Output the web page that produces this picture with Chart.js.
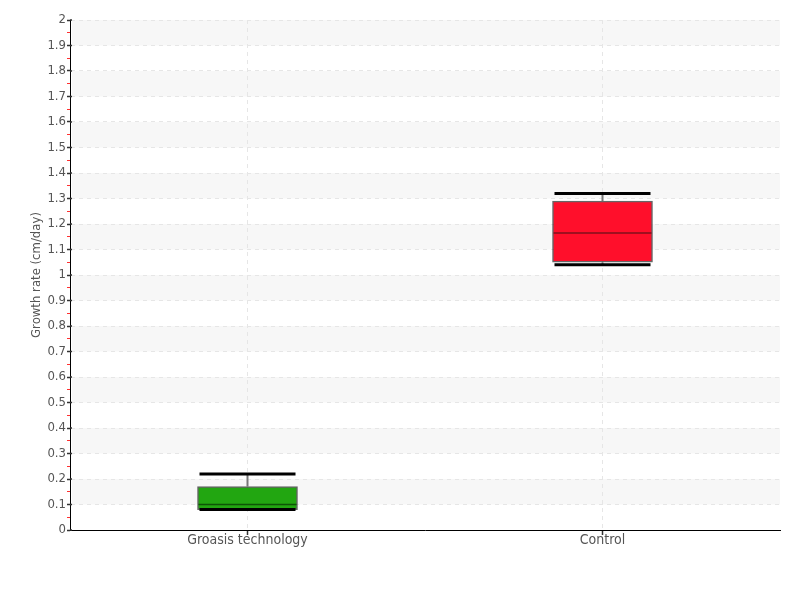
<!DOCTYPE html>
<html>
<head>
<meta charset="utf-8">
<script src="https://cdn.jsdelivr.net/npm/chart.js@4.4.1/dist/chart.umd.min.js"></script>
<style>
  html, body { margin: 0; padding: 0; background: #fff; }
  #c { display: block; }
</style>
</head>
<body>
<canvas id="c" width="800" height="600"></canvas>
<script>
// box plot values (cm/day)
const categories = ['Groasis technology', 'Control'];
const whiskerLow = [0.08, 1.04];
const quartile1 = [0.08, 1.05];
const medians = [0.10, 1.165];
const quartile3 = [0.17, 1.29];
const whiskerHigh = [0.22, 1.32];

const yMin = 0, yMax = 2, yStep = 0.05;

const boxFill = ['#22a611', '#ff0f2b'];
const medianColor = ['#0e5407', '#80101c'];
const FONT = '"DejaVu Sans Condensed", "Liberation Sans Narrow", sans-serif';

const isMajor = v => Math.round(v * 100) % 10 === 0;

// light grey bands every other 0.1 step
const bandPlugin = {
    id: 'bands',
    beforeDraw(chart) {
        const { ctx, chartArea, scales } = chart;
        const y = scales.y;
        ctx.save();
        ctx.fillStyle = '#f7f7f7';
        for (let i = 1; i < 20; i += 2) {
            const top = y.getPixelForValue((i + 1) / 10);
            const bot = y.getPixelForValue(i / 10);
            ctx.fillRect(chartArea.left + 2, top, chartArea.right - chartArea.left - 2, bot - top);
        }
        ctx.restore();
    },
    // major y ticks poke a little into the plot
    afterDraw(chart) {
        const { ctx, chartArea, scales } = chart;
        const y = scales.y;
        ctx.save();
        ctx.strokeStyle = '#333';
        ctx.lineWidth = 1.5;
        ctx.beginPath();
        y.ticks.forEach(t => {
            if (!isMajor(t.value)) return;
            const p = y.getPixelForValue(t.value);
            ctx.moveTo(chartArea.left, p);
            ctx.lineTo(chartArea.left + 2, p);
        });
        ctx.stroke();
        ctx.restore();
    }
};

// whiskers, caps and medians on top of the boxes
const whiskerPlugin = {
    id: 'whiskers',
    afterDatasetsDraw(chart) {
        const { ctx, scales } = chart;
        const y = scales.y;
        const meta = chart.getDatasetMeta(0);
        ctx.save();
        meta.data.forEach((bar, i) => {
            const cx = bar.x;
            const half = bar.width / 2;
            const capHalf = bar.width * 0.48;
            const pLow = y.getPixelForValue(whiskerLow[i]);
            const pHigh = y.getPixelForValue(whiskerHigh[i]);
            const pQ1 = y.getPixelForValue(quartile1[i]);
            const pQ3 = y.getPixelForValue(quartile3[i]);
            const pMed = y.getPixelForValue(medians[i]);

            ctx.strokeStyle = '#777';
            ctx.lineWidth = 2;
            ctx.beginPath();
            ctx.moveTo(cx, pQ3); ctx.lineTo(cx, pHigh);
            ctx.moveTo(cx, pQ1); ctx.lineTo(cx, pLow);
            ctx.stroke();

            ctx.strokeStyle = '#000';
            ctx.lineWidth = 3;
            ctx.beginPath();
            ctx.moveTo(cx - capHalf, pHigh); ctx.lineTo(cx + capHalf, pHigh);
            ctx.moveTo(cx - capHalf, pLow); ctx.lineTo(cx + capHalf, pLow);
            ctx.stroke();

            ctx.strokeStyle = medianColor[i];
            ctx.lineWidth = 1.5;
            ctx.beginPath();
            ctx.moveTo(cx - half + 1, pMed); ctx.lineTo(cx + half - 1, pMed);
            ctx.stroke();
        });
        ctx.restore();
    }
};

new Chart(document.getElementById('c'), {
    type: 'bar',
    data: {
        labels: categories,
        datasets: [{
            data: categories.map((_, i) => [quartile1[i], quartile3[i]]),
            backgroundColor: boxFill,
            borderColor: 'rgba(0,0,0,0.6)',
            borderWidth: 1.5,
            borderSkipped: false,
            barThickness: 100
        }]
    },
    options: {
        responsive: false,
        animation: false,
        layout: { padding: { top: 20, right: 20, left: 0, bottom: 0 } },
        plugins: {
            legend: { display: false },
            tooltip: { enabled: false }
        },
        scales: {
            x: {
                offset: true,
                afterFit: s => { s.height = 70; },
                grid: {
                    offset: false,
                    color: '#e6e6e6',
                    tickColor: '#333',
                    tickLength: 5,
                    tickWidth: 1.5
                },
                border: { color: '#000', width: 1, dash: [4, 4] },
                ticks: { color: '#555', padding: -3, font: { family: FONT, size: 14 } }
            },
            y: {
                min: yMin,
                max: yMax,
                afterFit: s => { s.width = 70; },
                grid: {
                    color: c => isMajor(c.tick.value) ? '#e6e6e6' : 'rgba(0,0,0,0)',
                    tickColor: c => isMajor(c.tick.value) ? '#333' : '#ff3030',
                    tickWidth: c => isMajor(c.tick.value) ? 1.5 : 1,
                    tickLength: 3
                },
                border: { color: '#000', width: 1, dash: [4, 4] },
                ticks: {
                    stepSize: yStep,
                    autoSkip: false,
                    padding: 1,
                    color: '#555',
                    font: { family: FONT, size: 13 },
                    callback: v => isMajor(v) ? String(Math.round(v * 10) / 10) : ''
                },
                title: {
                    display: true,
                    text: 'Growth rate (cm/day)',
                    color: '#555',
                    font: { family: FONT, size: 13 },
                    padding: { top: 29, bottom: 0 }
                }
            }
        }
    },
    plugins: [bandPlugin, whiskerPlugin]
});
</script>
</body>
</html>
